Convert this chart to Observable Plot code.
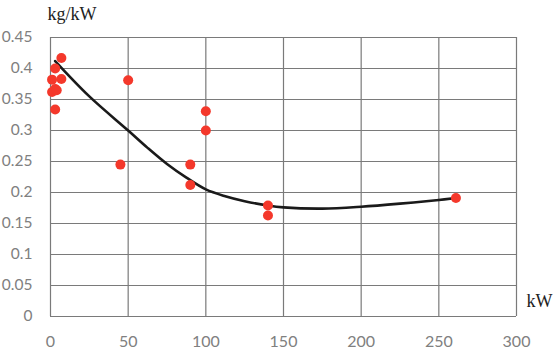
<!DOCTYPE html>
<html>
<head>
<meta charset="utf-8">
<script src="https://cdn.jsdelivr.net/npm/d3@7"></script>
<script src="https://cdn.jsdelivr.net/npm/@observablehq/plot@0.6"></script>
<style>
  html, body { margin: 0; padding: 0; background: #fff; }
  #chart svg { display: block; }
</style>
</head>
<body>
<div id="chart"></div>
<script>
// Observed data points (power kW, specific mass kg/kW)
const powerKW = [7, 3, 1, 7, 3, 1, 4, 3, 50, 100, 100, 45, 90, 90, 140, 140, 261];
const massPerKW = [0.417, 0.400, 0.382, 0.383, 0.367, 0.362, 0.365, 0.334, 0.381, 0.331, 0.300, 0.245, 0.245, 0.212, 0.179, 0.163, 0.191];

// Trend line
const trendX = [3, 25, 50, 62.5, 75, 87.5, 100, 112.5, 125, 140, 150, 175, 200, 225, 250, 261];
const trendY = [0.412, 0.355, 0.300, 0.272, 0.246, 0.224, 0.205, 0.194, 0.186, 0.179, 0.176, 0.174, 0.177, 0.182, 0.188, 0.191];

const xTicks = [0, 50, 100, 150, 200, 250, 300];
const yTicks = [0, 0.05, 0.1, 0.15, 0.2, 0.25, 0.3, 0.35, 0.4, 0.45];
const yTitle = ["kg/kW"];
const xTitle = ["kW"];

const points = powerKW.map((x, i) => ({x, y: massPerKW[i]}));
const trend = trendX.map((x, i) => ({x, y: trendY[i]}));

const gridColor = "#7a7a7a";
const tickColor = "#808080";
const tickFont = "Lato, 'Open Sans', sans-serif";
const serif = "'Liberation Serif', 'DejaVu Serif', serif";

const chart = Plot.plot({
  width: 556,
  height: 360,
  marginLeft: 50,
  marginRight: 40,
  marginTop: 37,
  marginBottom: 44,
  style: {background: "#fff", overflow: "visible"},
  x: {domain: [0, 300]},
  y: {domain: [0, 0.45]},
  marks: [
    Plot.ruleX(xTicks, {stroke: gridColor, strokeWidth: 1.2, strokeOpacity: 1}),
    Plot.ruleY(yTicks, {stroke: gridColor, strokeWidth: 1.2, strokeOpacity: 1}),
    Plot.axisX(xTicks, {tickSize: 0, tickPadding: 19, fontSize: 16, fill: tickColor, fontFamily: tickFont, label: null}),
    Plot.axisY(yTicks, {tickSize: 0, tickPadding: 18, fontSize: 15.5, fill: tickColor, fontFamily: tickFont, label: null,
      tickFormat: d => String(+d.toFixed(2))}),
    Plot.line(trend, {x: "x", y: "y", curve: "catmull-rom", stroke: "#1a1a1a", strokeWidth: 2.6}),
    Plot.dot(points, {x: "x", y: "y", r: 5, fill: "#f4382b", stroke: "none"}),
    Plot.text(yTitle, {frameAnchor: "top-left", dx: -3, dy: -30, fontSize: 18, fontFamily: serif, fill: "#222", textAnchor: "start"}),
    Plot.text(xTitle, {frameAnchor: "bottom-right", dx: 36, dy: -10, fontSize: 18, fontFamily: serif, fill: "#222"})
  ]
});
document.getElementById("chart").appendChild(chart);
</script>
</body>
</html>
